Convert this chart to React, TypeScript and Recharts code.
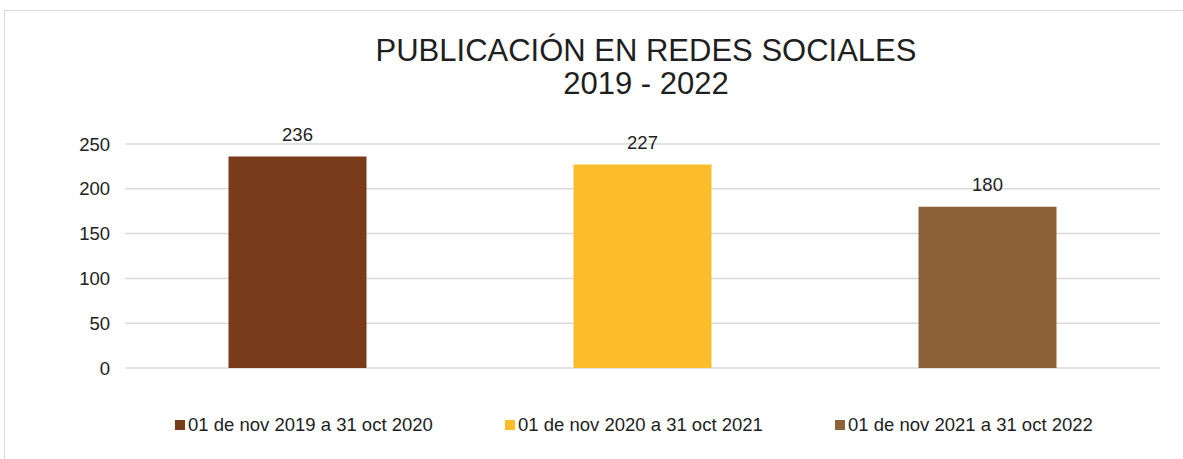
import React from 'react';
import { BarChart, Bar, XAxis, YAxis, CartesianGrid, Cell, LabelList } from 'recharts';

const periods = [
  '01 de nov 2019 a 31 oct 2020',
  '01 de nov 2020 a 31 oct 2021',
  '01 de nov 2021 a 31 oct 2022',
];
const publications = [236, 227, 180];
const barColors = ['#7a3b1a', '#fdbd2a', '#8e6239'];
const yTicks = [0, 50, 100, 150, 200, 250];
const titleLines = ['PUBLICACIÓN EN REDES SOCIALES', '2019 - 2022'];

const data = periods.map((p, i) => ({ name: p, value: publications[i] }));

const FONT = '"Liberation Sans", Arial, sans-serif';

export default function App() {
  return (
    <div style={{ position: 'absolute', left: 0, top: 0, width: 1183, height: 459, background: '#fff', fontFamily: FONT, overflow: 'hidden' }}>
      {/* frame (right/bottom edges fall outside the picture) */}
      <div style={{ position: 'absolute', left: 4, top: 10, width: 1200, height: 480, borderTop: '1px solid #d9d9d9', borderLeft: '1px solid #d9d9d9' }} />

      <div style={{ position: 'absolute', left: 0, top: 34, width: 1292, textAlign: 'center', fontSize: 31, lineHeight: '33px', color: '#1f1f1f' }}>
        {titleLines.map((t) => (
          <div key={t}>{t}</div>
        ))}
      </div>

      <div style={{ position: 'absolute', left: 0, top: 0 }}>
        <BarChart
          width={1183}
          height={459}
          data={data}
          margin={{ top: 144, right: 23, bottom: 91, left: 0 }}
          barCategoryGap="30%"
        >
          <CartesianGrid vertical={false} stroke="#d9d9d9" strokeWidth={1.5} />
          <XAxis dataKey="name" hide />
          <YAxis
            width={125}
            domain={[0, 250]}
            ticks={yTicks}
            axisLine={false}
            tickLine={false}
            tickMargin={9}
            tick={{ fill: '#222', fontSize: 18.5, fontFamily: FONT }}
          />
          <Bar dataKey="value" isAnimationActive={false}>
            {data.map((d, i) => (
              <Cell key={d.name} fill={barColors[i]} />
            ))}
            <LabelList dataKey="value" position="top" offset={16} fill="#222" fontSize={18.5} fontFamily={FONT} />
          </Bar>
        </BarChart>
      </div>

      <div style={{ position: 'absolute', left: 175, top: 414, display: 'flex', fontSize: 18.5, lineHeight: '22px', color: '#222' }}>
        {periods.map((p, i) => (
          <div key={p} style={{ width: 330, display: 'flex', alignItems: 'center' }}>
            <span style={{ display: 'inline-block', width: 10, height: 10, background: barColors[i], marginRight: 3 }} />
            <span>{p}</span>
          </div>
        ))}
      </div>
    </div>
  );
}
